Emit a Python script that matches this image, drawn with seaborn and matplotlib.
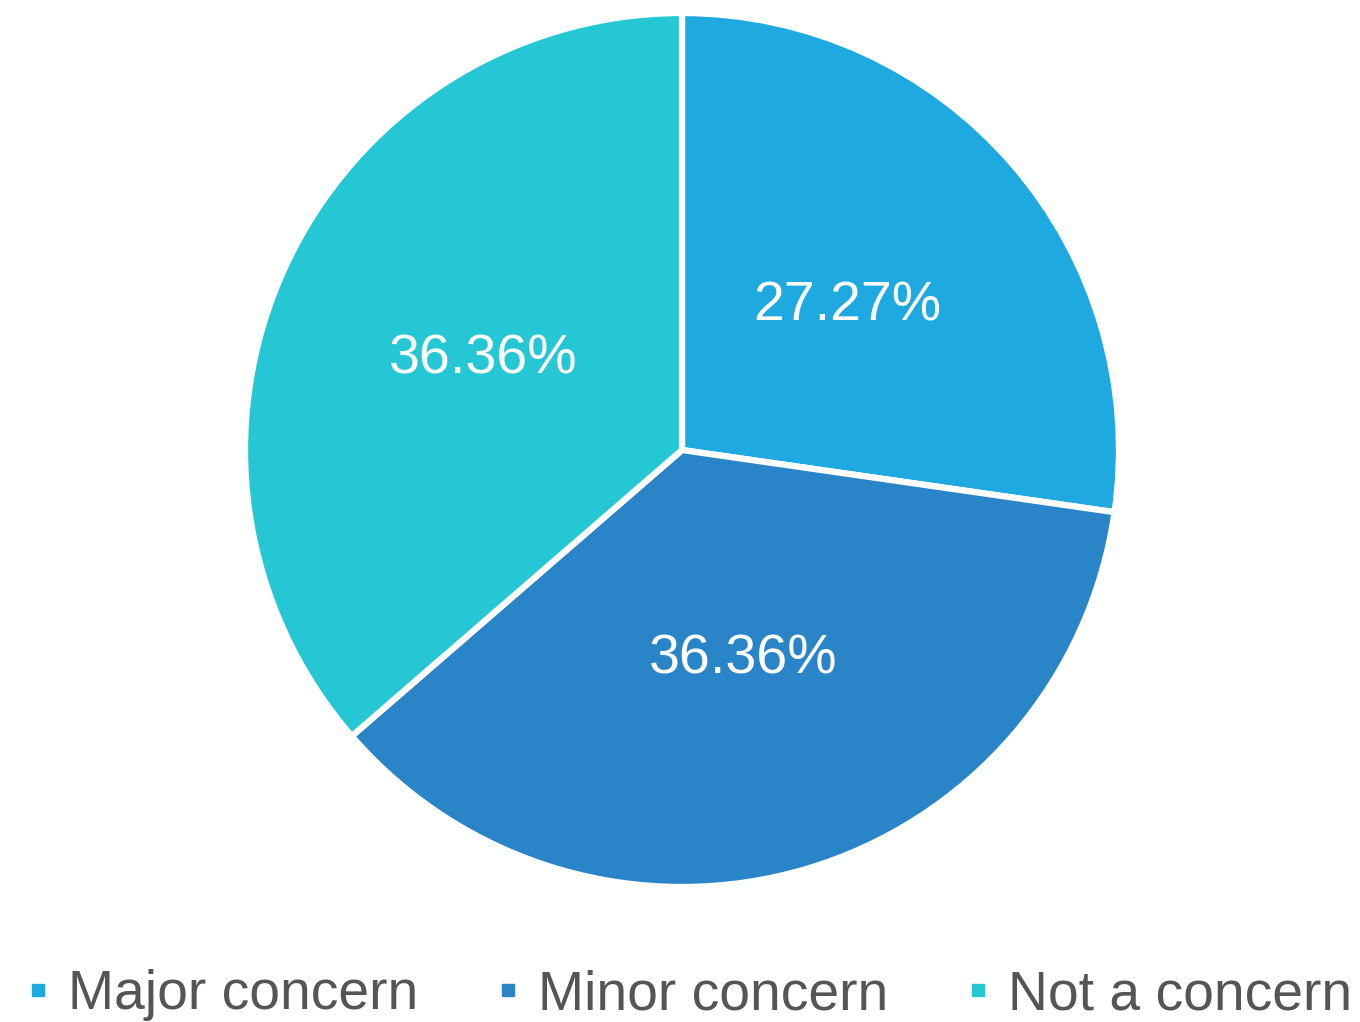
import matplotlib
matplotlib.use("Agg")
import matplotlib.pyplot as plt
from matplotlib.lines import Line2D
import seaborn as sns

categories = ["Major concern", "Minor concern", "Not a concern"]
values = [27.27, 36.36, 36.36]
colors = ["#1FA9E1", "#2A85C8", "#26C7D4"]

sns.set_theme(style="white")
plt.rcParams['font.family'] = ['Liberation Sans', 'DejaVu Sans']

W, H = 1360, 1022
fig = plt.figure(figsize=(W / 100, H / 100), dpi=100)
cx, cy, r = 682, 450, 437
ax = fig.add_axes([(cx - r) / W, 1 - (cy + r) / H, 2 * r / W, 2 * r / H])

wedges, texts, autotexts = ax.pie(
    values, colors=sns.color_palette(colors), startangle=90, counterclock=False,
    autopct=lambda p: f"{p:.2f}%", pctdistance=0.5, radius=1.0,
    wedgeprops=dict(edgecolor="white", linewidth=4.5),
    textprops=dict(color="white", fontsize=40))
for w in wedges:
    w.set_clip_on(False)
ax.set_xlim(-1.0, 1.0)
ax.set_ylim(-1.0, 1.0)
ax.set_aspect("equal")
ax.axis("off")

handles = [Line2D([0], [0], marker="s", linestyle="none", markersize=8.5,
                  markerfacecolor=c, markeredgecolor=c) for c in colors]
fig.legend(handles, categories, loc="center", bbox_to_anchor=(0.507, 1 - 995 / H),
           ncol=3, frameon=False, fontsize=39.8, handlelength=0.4,
           handletextpad=0.35, columnspacing=1.42, labelcolor="#555555",
           borderaxespad=0, borderpad=0)

fig.savefig("out.png", dpi=100, facecolor="white")
